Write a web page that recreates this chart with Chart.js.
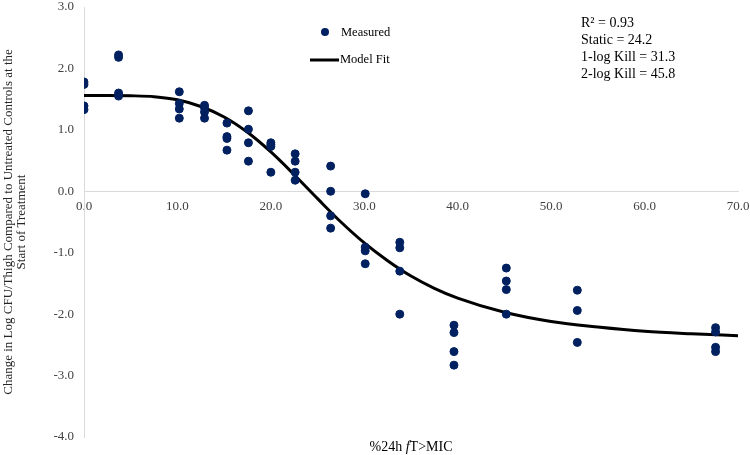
<!DOCTYPE html>
<html>
<head>
<meta charset="utf-8">
<script src="https://cdn.jsdelivr.net/npm/chart.js@4.4.1/dist/chart.umd.min.js"></script>
<style>
  body { margin: 0; background: #fff; }
  #wrap { width: 750px; height: 455px; }
</style>
</head>
<body>
<div id="wrap"><canvas id="grafico"></canvas></div>
<script>
// %24h fT>MIC de cada grupo de dose
const doseGroups = [0, 3.7, 10.2, 12.9, 15.3, 17.6, 20.0, 22.6, 26.4, 30.1, 33.8, 39.6, 45.2, 52.8, 67.6];

// Variação em log CFU/coxa (medido) para cada grupo
const measuredValues = [
  [1.78, 1.74, 1.39, 1.33],
  [2.22, 2.18, 1.60, 1.55],
  [1.62, 1.43, 1.34, 1.19],
  [1.40, 1.36, 1.29, 1.19],
  [1.11, 0.89, 0.86, 0.67],
  [1.31, 1.01, 0.79, 0.49],
  [0.79, 0.76, 0.73, 0.31],
  [0.61, 0.49, 0.31, 0.18],
  [0.41, 0.00, -0.40, -0.60],
  [-0.04, -0.91, -0.97, -1.18],
  [-0.83, -0.92, -1.30, -2.00],
  [-2.18, -2.30, -2.61, -2.83],
  [-1.25, -1.46, -1.60, -2.00],
  [-1.61, -1.94, -2.46],
  [-2.22, -2.29, -2.54, -2.61]
];

// Curva do modelo
const fitX = [0, 2.5, 5, 7.5, 10, 12.5, 15, 17.5, 20, 22.5, 25, 27.5, 30, 32.5, 35, 37.5, 40, 45, 50, 55, 60, 65, 70];
const fitY = [1.56, 1.56, 1.555, 1.54, 1.49, 1.38, 1.21, 0.96, 0.64, 0.27, -0.12, -0.50, -0.84, -1.13, -1.38, -1.58, -1.74, -1.97, -2.12, -2.21, -2.28, -2.32, -2.35];

// Textos
const statsLines = ["R\u00B2 = 0.93", "Static = 24.2", "1-log Kill = 31.3", "2-log Kill = 45.8"];
const yTitle = ["Change in Log CFU/Thigh Compared to Untreated Controls at the", "Start of Treatment"];

const pontos = [];
doseGroups.forEach((x, i) => {
  measuredValues[i].forEach(y => pontos.push({ x: x, y: y }));
});
const curva = fitX.map((x, i) => ({ x: x, y: fitY[i] }));

const NAVY = '#002060';
const SERIF = "'Liberation Serif', 'Times New Roman', serif";

// Legenda, estatísticas e título do eixo x desenhados à mão
const extras = {
  id: 'extras',
  afterDraw(chart) {
    const ctx = chart.ctx;
    const area = chart.chartArea;
    ctx.save();

    // legenda
    ctx.fillStyle = NAVY;
    ctx.beginPath();
    ctx.arc(325, 32, 4, 0, Math.PI * 2);
    ctx.fill();
    ctx.strokeStyle = '#000';
    ctx.lineWidth = 3;
    ctx.beginPath();
    ctx.moveTo(310, 60);
    ctx.lineTo(339, 60);
    ctx.stroke();
    ctx.fillStyle = '#000';
    ctx.font = '12.5px ' + SERIF;
    ctx.textBaseline = 'middle';
    ctx.textAlign = 'left';
    ctx.fillText('Measured', 341, 33);
    ctx.fillText('Model Fit', 340, 60);

    // estatísticas
    ctx.font = '14px ' + SERIF;
    statsLines.forEach((t, i) => ctx.fillText(t, 581, 23 + i * 17));

    // título do eixo x com f em itálico
    const y = 447;
    const partes = [['%24h ', ''], ['f', 'italic '], ['T>MIC', '']];
    let total = 0;
    partes.forEach(p => { ctx.font = p[1] + '14px ' + SERIF; total += ctx.measureText(p[0]).width; });
    let x = (area.left + area.right) / 2 - total / 2;
    partes.forEach(p => {
      ctx.font = p[1] + '14px ' + SERIF;
      ctx.fillText(p[0], x, y);
      x += ctx.measureText(p[0]).width;
    });
    ctx.restore();
  }
};

const ctx = document.getElementById('grafico').getContext('2d');
new Chart(ctx, {
  type: 'scatter',
  data: {
    datasets: [
      {
        label: 'Measured',
        data: pontos,
        backgroundColor: NAVY,
        borderColor: NAVY,
        pointRadius: 4,
        pointHoverRadius: 4,
        order: 0
      },
      {
        label: 'Model Fit',
        type: 'line',
        data: curva,
        borderColor: '#000',
        borderWidth: 3,
        pointRadius: 0,
        fill: false,
        cubicInterpolationMode: 'monotone',
        order: 1
      }
    ]
  },
  options: {
    responsive: true,
    maintainAspectRatio: false,
    animation: false,
    layout: { padding: { top: 7, right: 12, bottom: 18, left: 0 } },
    plugins: {
      legend: { display: false },
      tooltip: { enabled: false }
    },
    scales: {
      x: {
        type: 'linear',
        position: { y: 0 },
        min: 0,
        max: 70,
        afterFit: s => { s.paddingTop = 0; s.paddingBottom = 0; s.paddingLeft = 0; s.paddingRight = 0; },
        ticks: {
          stepSize: 10,
          padding: 7,
          maxRotation: 0,
          color: '#404040',
          font: { family: SERIF, size: 13 },
          callback: v => v.toFixed(1)
        },
        grid: { display: false, drawTicks: false },
        border: { display: true, color: '#d9d9d9', width: 1 }
      },
      y: {
        min: -4,
        max: 3,
        afterFit: s => { s.width = 84; s.paddingTop = 0; s.paddingBottom = 0; },
        ticks: {
          stepSize: 1,
          padding: 10,
          color: '#404040',
          font: { family: SERIF, size: 13 },
          callback: v => v.toFixed(1)
        },
        grid: { display: false, drawTicks: false },
        border: { display: true, color: '#d9d9d9', width: 1 },
        title: {
          display: true,
          text: yTitle,
          color: '#262626',
          font: { family: SERIF, size: 13, lineHeight: 1 },
          padding: { top: 2, bottom: 0 }
        }
      }
    }
  },
  plugins: [extras]
});
</script>
</body>
</html>
